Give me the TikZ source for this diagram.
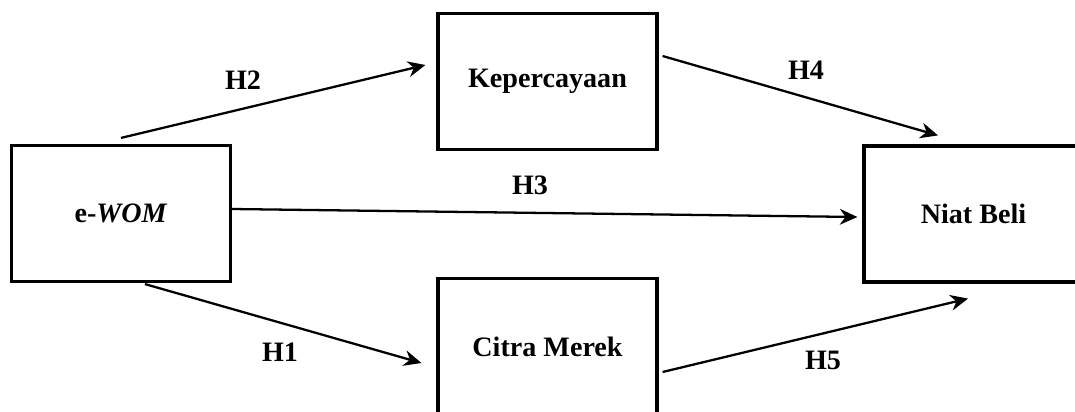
\documentclass[tikz,border=0pt]{standalone}
\usepackage{fontspec}
\setmainfont{Liberation Serif}
\usepackage{tikz}
\usetikzlibrary{calc}
\usetikzlibrary{arrows.meta}
\tikzset{
	varstyle/.style={rectangle,draw=black,line width=1.8pt,fill=white,minimum width=4.38cm,minimum height=2.72cm,font=\fontsize{16}{19}\selectfont\bfseries},
	hypstyle/.style={font=\fontsize{16}{19}\selectfont\bfseries},
	linkstyle/.style={line width=1.3pt,-{Stealth[length=10pt,width=9pt]}}
}
\begin{document}
\begin{tikzpicture}
	\clip (0,0) rectangle (21.5,-8.22);
	\node[varstyle] (ewom) at (2.42,-4.27) {e-\textit{WOM}};
	\node[varstyle] (kep) at (10.95,-1.63) {Kepercayaan};
	\node[varstyle] (citra) at (10.95,-6.93) {Citra Merek};
	\node[varstyle] (niat) at (19.47,-4.28) {Niat Beli};
	\draw[linkstyle] ($(ewom.north)+(0,0.12)$)--($(kep.west)+(-0.22,0.33)$);
	\draw[linkstyle] ($(kep.east)+(0.08,0.51)$)--($(niat.north)+(-0.71,0.18)$);
	\draw[linkstyle] ($(ewom.east)+(0,0.09)$)--($(niat.west)+(-0.1,-0.06)$);
	\draw[linkstyle] ($(ewom.south)+(0.48,-0.02)$)--($(citra.west)+(-0.3,-0.33)$);
	\draw[linkstyle] ($(citra.east)+(0.08,-0.51)$)--($(niat.south)+(-0.11,-0.3)$);
	\node[hypstyle] (h2) at (4.86,-1.6) {H2};
	\node[hypstyle] (h4) at (16.12,-1.4) {H4};
	\node[hypstyle] (h3) at (10.6,-3.7) {H3};
	\node[hypstyle] (h1) at (5.6,-7.04) {H1};
	\node[hypstyle] (h5) at (16.46,-7.2) {H5};
\end{tikzpicture}
\end{document}
